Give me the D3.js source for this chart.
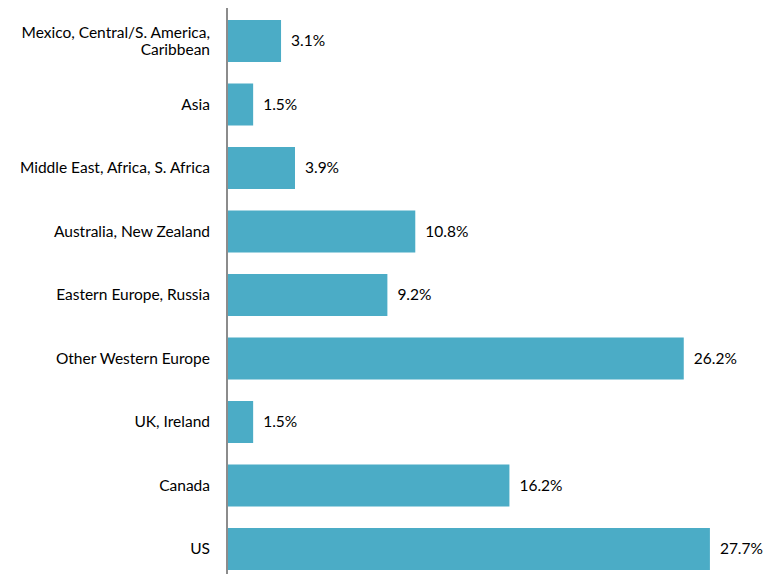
<!DOCTYPE html>
<html>
<head>
<meta charset="utf-8">
<script src="https://cdn.jsdelivr.net/npm/d3@7/dist/d3.min.js"></script>
<style>
  body { margin: 0; background: #fff; }
  text { font-family: Lato, "Open Sans", sans-serif; fill: #000; }
</style>
</head>
<body>
<div id="chart"></div>
<script>
// categories, top to bottom
const regions = [
  "Mexico, Central/S. America,|Caribbean",
  "Asia",
  "Middle East, Africa, S. Africa",
  "Australia, New Zealand",
  "Eastern Europe, Russia",
  "Other Western Europe",
  "UK, Ireland",
  "Canada",
  "US"
];
const shares = [3.1, 1.5, 3.9, 10.8, 9.2, 26.2, 1.5, 16.2, 27.7];

const width = 776, height = 574;
const axisX = 227;
const fontSize = "15.5px";

const svg = d3.select("#chart").append("svg")
  .attr("width", width)
  .attr("height", height);

// x scale: percent to px
let x = d3.scaleLinear()
  .domain([0, 30])
  .range([axisX, axisX + 523]);

// y scale: band per region
let y = d3.scaleBand()
  .domain(regions)
  .range([20, 570])
  .paddingInner(0.3386)
  .paddingOuter(0);

let data = regions.map((r, i) => ({region: r, value: shares[i]}));

// bars
svg.selectAll(".bar")
  .data(data)
  .enter()
  .append("rect")
  .attr("class", "bar")
  .attr("x", x(0))
  .attr("y", d => y(d.region))
  .attr("width", d => x(d.value) - x(0))
  .attr("height", y.bandwidth())
  .attr("fill", "#4bacc6");

// value labels
svg.selectAll(".val")
  .data(data)
  .enter()
  .append("text")
  .attr("class", "val")
  .attr("x", d => x(d.value) + 10)
  .attr("y", d => y(d.region) + y.bandwidth() / 2)
  .attr("dy", "0.35em")
  .style("font-size", fontSize)
  .text(d => d.value.toFixed(1) + "%");

// category labels (right aligned, may wrap on "|")
let labels = svg.selectAll(".cat")
  .data(data)
  .enter()
  .append("text")
  .attr("class", "cat")
  .attr("text-anchor", "end")
  .style("font-size", fontSize)
  .attr("y", d => y(d.region) + y.bandwidth() / 2);

labels.each(function(d) {
  let lines = d.region.split("|");
  let t = d3.select(this);
  lines.forEach((ln, i) => {
    t.append("tspan")
      .attr("x", axisX - 17)
      .attr("dy", i === 0 ? (0.35 - (lines.length - 1) * 0.55) + "em" : "1.1em")
      .text(ln);
  });
});

// vertical axis line
svg.append("line")
  .attr("x1", axisX)
  .attr("x2", axisX)
  .attr("y1", 8)
  .attr("y2", height)
  .attr("stroke", "#8c8c8c")
  .attr("stroke-width", 2);
</script>
</body>
</html>
